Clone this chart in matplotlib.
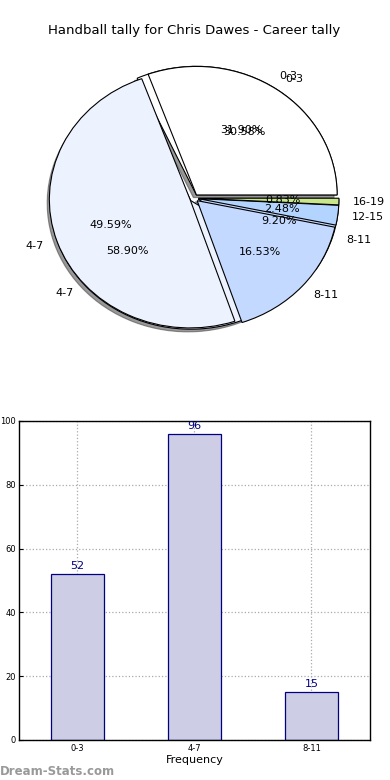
import matplotlib
matplotlib.use("Agg")
import matplotlib.pyplot as plt

title = "Handball tally for Chris Dawes - Career tally"

# pie A (five groups)
pie_a_labels = ["0-3", "4-7", "8-11", "12-15", "16-19"]
pie_a_values = [37, 60, 20, 3, 1]
pie_a_colors = ["#ffffff", "#edf2ff", "#c4d9ff", "#b3d4ff", "#c8e68a"]

# pie B / bars (three groups)
bar_labels = ["0-3", "4-7", "8-11"]
bar_values = [52, 96, 15]
pie_b_colors = ["#ffffff", "#edf2ff", "#c4d9ff"]

fig = plt.figure(figsize=(3.9, 7.8), dpi=100)

# ---- pie ----
ax1 = fig.add_axes([0.0465, 0.540, 0.902, 0.412])
ax1.pie(bar_values, labels=bar_labels, colors=pie_b_colors, autopct="%.2f%%",
        explode=[0.03] * len(bar_values), startangle=0,
        shadow={"ox": -0.015, "oy": -0.015, "color": "#333333"},
        wedgeprops={"edgecolor": "black", "linewidth": 0.8},
        textprops={"fontsize": 8}, labeldistance=1.1, pctdistance=0.6)
ax1.pie(pie_a_values, labels=pie_a_labels, colors=pie_a_colors, autopct="%.2f%%",
        explode=[0.03] * len(pie_a_values), startangle=0,
        wedgeprops={"edgecolor": "black", "linewidth": 0.8},
        textprops={"fontsize": 8}, labeldistance=1.1, pctdistance=0.6)
ax1.set_aspect("auto")
ax1.set_xlim(-1.25, 1.25)
ax1.set_ylim(-1.25, 1.25)
ax1.set_title(title, fontsize=9.5, pad=2)

# ---- bars ----
ax2 = fig.add_axes([0.0487, 0.0513, 0.9, 0.409])
x = list(range(len(bar_values)))
ax2.bar(x, bar_values, width=0.45, color="#cdcde6",
        edgecolor="#000080", linewidth=0.9, zorder=2)
for xi, v in zip(x, bar_values):
    ax2.text(xi, v + 1, str(v), ha="center", va="bottom", color="#000080", fontsize=8)
ax2.set_xlim(-0.5, 2.5)
ax2.set_ylim(0, 100)
ax2.set_xticks(x)
ax2.set_xticklabels(bar_labels, fontsize=6)
ax2.set_yticks(range(0, 101, 20))
ax2.tick_params(axis="y", labelsize=6, direction="in", length=3, pad=2)
ax2.tick_params(axis="x", direction="in", length=3, pad=3)
ax2.grid(True, linestyle=":", color="#aaaaaa", linewidth=0.9, zorder=0)
ax2.set_axisbelow(True)
ax2.set_xlabel("Frequency", fontsize=8, labelpad=1)
for s in ax2.spines.values():
    s.set_linewidth(1.0)

fig.text(0.0, 0.003, "Dream-Stats.com", color="#999999", fontsize=8.5, fontweight="bold",
         ha="left", va="bottom")

fig.savefig("out.png", dpi=100)
